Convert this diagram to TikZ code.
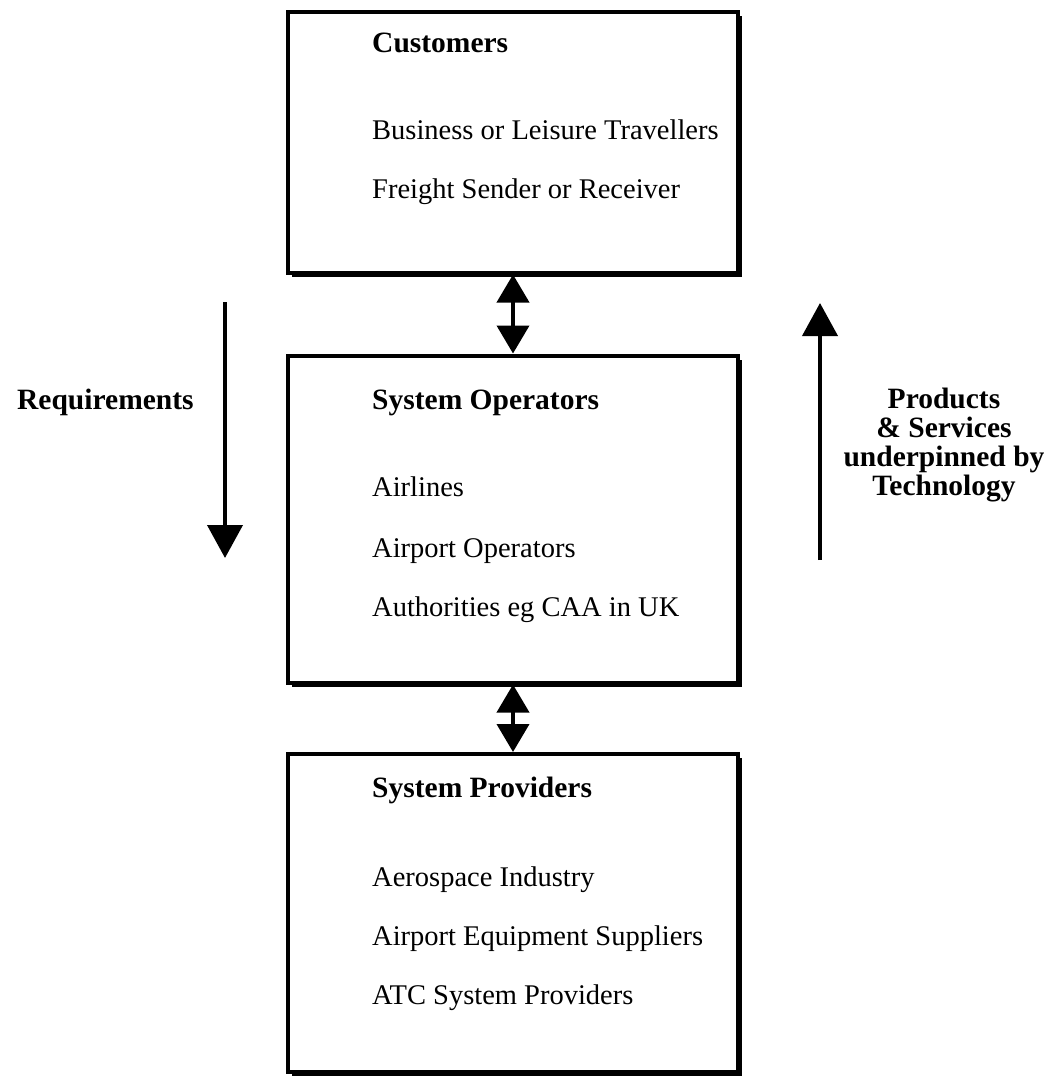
\documentclass[tikz,border=0pt]{standalone}
\usepackage{fontspec}
\setmainfont{Liberation Serif}
\usetikzlibrary{arrows.meta,shadows}
\begin{document}
\begin{tikzpicture}[x=1pt,y=-1pt,
  box/.style={draw,line width=4pt,fill=white,minimum width=450pt,
    drop shadow={shadow xshift=4pt,shadow yshift=-4pt,fill=black,opacity=1}},
  item/.style={anchor=base west,inner sep=0pt,font=\fontsize{28.5}{34}\selectfont},
  head/.style={item,font=\fontsize{29.5}{34}\selectfont\bfseries},
  side/.style={align=center,inner sep=0pt,font=\fontsize{29.5}{29}\selectfont\bfseries},
  flow/.style={line width=4pt,-{Triangle[width=35pt,length=33pt]}},
  link/.style={line width=4pt,{Triangle[width=32pt,length=28pt]}-{Triangle[width=32pt,length=28pt]}}]
\useasboundingbox (0,0) rectangle (1050,1077);

% the three tiers
\node[box,minimum height=261pt] (cust) at (513,142) {};
\node[box,minimum height=327pt] (oper) at (513,519) {};
\node[box,minimum height=318pt] (prov) at (513,913) {};

% customers
\node[head] (custT) at (372,52) {Customers};
\node[item] (cust1) at (372,139) {Business or Leisure Travellers};
\node[item] (cust2) at (372,198) {Freight Sender or Receiver};

% system operators
\node[head] (operT) at (372,409) {System Operators};
\node[item] (oper1) at (372,496) {Airlines};
\node[item] (oper2) at (372,557) {Airport Operators};
\node[item] (oper3) at (372,616) {Authorities eg CAA in UK};

% system providers
\node[head] (provT) at (372,797) {System Providers};
\node[item] (prov1) at (372,886) {Aerospace Industry};
\node[item] (prov2) at (372,945) {Airport Equipment Suppliers};
\node[item] (prov3) at (372,1004) {ATC System Providers};

% links between tiers
\draw[link] (cust.south) -- (oper.north);
\draw[link] (oper.south) -- (prov.north);

% requirements flow downwards
\coordinate (reqTop) at (225,302);
\coordinate (reqEnd) at (225,558);
\draw[flow] (reqTop) -- (reqEnd);
\node[side,anchor=base west] (req) at (17,409) {Requirements};

% products flow upwards
\coordinate (prodBot) at (820,560);
\coordinate (prodTop) at (820,303);
\draw[flow] (prodBot) -- (prodTop);
\node[side] (prod) at (944,445) {Products\\\& Services\\underpinned by\\Technology};
\end{tikzpicture}
\end{document}
